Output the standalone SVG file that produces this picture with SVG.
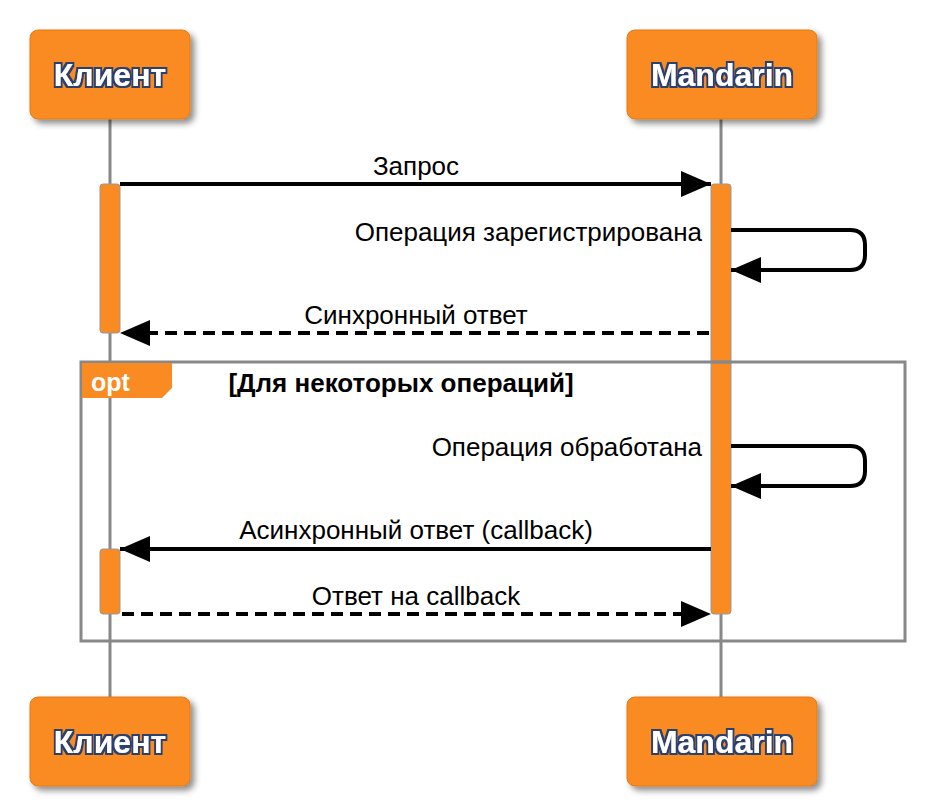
<svg xmlns="http://www.w3.org/2000/svg" width="926" height="808" viewBox="0 0 926 808">
<defs>
<filter id="sh" x="-20%" y="-20%" width="150%" height="150%"><feDropShadow dx="4" dy="4" stdDeviation="3" flood-color="#000" flood-opacity="0.45"/></filter>
<filter id="ts" x="-10%" y="-30%" width="120%" height="160%"><feMorphology operator="dilate" radius="1.5" in="SourceAlpha" result="d"/><feFlood flood-color="#2a3f6e"/><feComposite in2="d" operator="in" result="o"/><feMerge><feMergeNode in="o"/><feMergeNode in="SourceGraphic"/></feMerge></filter>
<marker id="ah" viewBox="0 0 30 26" refX="30" refY="13" markerWidth="30" markerHeight="26" markerUnits="userSpaceOnUse" orient="auto"><path d="M0,0 L30,13 L0,26 Z" fill="#000"/></marker>
</defs>
<style>
.box{fill:#f98b22;stroke:#e07a1a;stroke-width:1}
.pt{font-family:"Liberation Sans",Arial,sans-serif;font-weight:bold;font-size:32px;fill:#fff;text-anchor:middle}
.life{stroke:#888;stroke-width:3}
.act{fill:#f98b22;stroke:#999;stroke-width:1}
.msg{stroke:#000;stroke-width:4;fill:none}
.dash{stroke-dasharray:12,7}
.lbl{font-family:"Liberation Sans",Arial,sans-serif;font-size:26px;fill:#000}
</style>
<g id="lifelines">
<line class="life" x1="110" y1="119" x2="110" y2="697"/>
<line class="life" x1="721" y1="119" x2="721" y2="697"/>
</g>
<g id="activations">
<rect class="act" x="100" y="184" width="20" height="149" rx="3"/>
<rect class="act" x="711" y="184" width="20" height="430" rx="3"/>
<rect class="act" x="100" y="549" width="20" height="65" rx="3"/>
</g>
<g id="opt">
<rect x="81" y="362" width="824" height="279" fill="none" stroke="#888" stroke-width="3"/>
<path d="M82,363 H172 V388 L162,398 H82 Z" fill="#f98b22"/>
<text x="91" y="391" font-family="Liberation Sans,Arial,sans-serif" font-weight="bold" font-size="25" fill="#fff">opt</text>
<text x="401" y="392" font-family="Liberation Sans,Arial,sans-serif" font-weight="bold" font-size="26" text-anchor="middle">[Для некоторых операций]</text>
</g>
<line x1="711" y1="362" x2="731" y2="362" stroke="#888" stroke-width="3"/>
<g id="connectors">
<line class="msg" x1="120" y1="184" x2="711" y2="184" marker-end="url(#ah)"/>
<path class="msg" d="M731,230 H850 Q865,230 865,245 V255 Q865,270 850,270 H731" marker-end="url(#ah)"/>
<line class="msg dash" x1="709" y1="333" x2="120" y2="333" marker-end="url(#ah)"/>
<path class="msg" d="M731,446 H850 Q865,446 865,461 V471 Q865,486 850,486 H731" marker-end="url(#ah)"/>
<line class="msg" x1="711" y1="549" x2="120" y2="549" marker-end="url(#ah)"/>
<line class="msg dash" x1="122" y1="614" x2="711" y2="614" marker-end="url(#ah)"/>
</g>
<g id="labels">
<text class="lbl" x="416" y="175" text-anchor="middle">Запрос</text>
<text class="lbl" x="702" y="241" text-anchor="end">Операция зарегистрирована</text>
<text class="lbl" x="416" y="324" text-anchor="middle">Синхронный ответ</text>
<text class="lbl" x="702" y="456" text-anchor="end">Операция обработана</text>
<text class="lbl" x="416" y="539" text-anchor="middle">Асинхронный ответ (callback)</text>
<text class="lbl" x="416" y="605" text-anchor="middle">Ответ на callback</text>
</g>
<g id="client-top"><rect class="box" x="30" y="30" width="160" height="89" rx="8" filter="url(#sh)"/><text class="pt" x="110" y="86" filter="url(#ts)">Клиент</text></g>
<g id="mandarin-top"><rect class="box" x="627" y="30" width="190" height="89" rx="8" filter="url(#sh)"/><text class="pt" x="722" y="86" filter="url(#ts)">Mandarin</text></g>
<g id="client-bottom"><rect class="box" x="30" y="697" width="160" height="89" rx="8" filter="url(#sh)"/><text class="pt" x="110" y="753" filter="url(#ts)">Клиент</text></g>
<g id="mandarin-bottom"><rect class="box" x="627" y="697" width="190" height="89" rx="8" filter="url(#sh)"/><text class="pt" x="722" y="753" filter="url(#ts)">Mandarin</text></g>
</svg>
